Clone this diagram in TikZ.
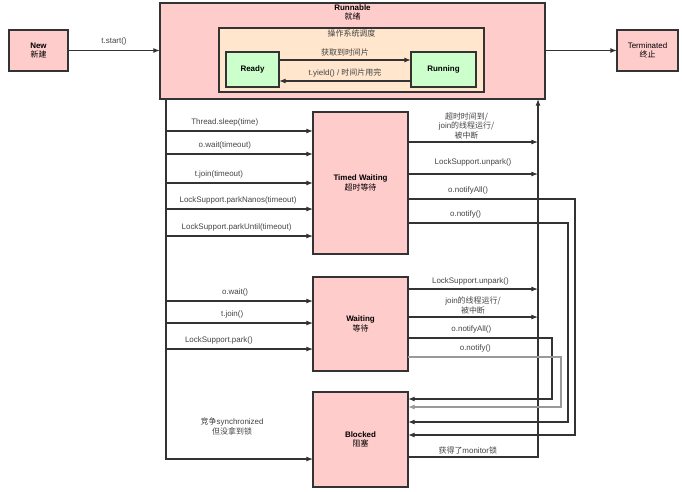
\documentclass[tikz,border=0pt]{standalone}
\usepackage{fontspec}
\setmainfont{Liberation Sans}
\newfontfamily\cjk{Noto Sans CJK SC}
\usepackage{tikz}
\usetikzlibrary{arrows.meta,positioning,calc}
\definecolor{statec}{HTML}{FFCCCC}
\definecolor{readyc}{HTML}{CCFFCC}
\definecolor{schedc}{HTML}{FFE6CC}
\definecolor{linec}{HTML}{333333}
\definecolor{textc}{HTML}{444444}

\begin{document}
\begin{tikzpicture}[x=0.03cm, y=-0.03cm,
  font=\fontsize{6.8}{8.2}\selectfont,
  box/.style={draw=linec, line width=1pt, fill=statec, align=center,
              inner sep=0pt, outer sep=0pt},
  arr/.style={-{Latex[length=2mm,width=1.5mm]}, line width=0.95pt, draw=linec},
  lbl/.style={midway, above=4pt, inner sep=0pt, text=textc, align=center}]
\useasboundingbox (0,0) rectangle (682,491);
% states
\node[box, minimum width=1.77cm, minimum height=1.23cm] (new) at (38.5,50.5)
     {\textbf{New}\\{\cjk 新建}};
\node[box, minimum width=11.55cm, minimum height=2.88cm] (run) at (352.5,51) {};
\node[align=center, inner sep=0pt] (runTitle) at (352.5,12.5) {\textbf{Runnable}\\{\cjk 就绪}};
\node[box, fill=schedc, minimum width=7.95cm, minimum height=1.92cm] (sched) at (351.5,60) {};
\node[inner sep=0pt, text=textc] (schedTitle) at (351.5,33) {\cjk 操作系统调度};
\node[box, fill=readyc, minimum width=1.59cm, minimum height=1.05cm] (ready) at (252.5,69.5)
     {\textbf{Ready}};
\node[box, fill=readyc, minimum width=1.95cm, minimum height=1.05cm] (running) at (443.5,69.5)
     {\textbf{Running}};
\node[box, minimum width=1.83cm, minimum height=1.23cm] (term) at (647.5,50.5)
     {Terminated\\{\cjk 终止}};
\node[box, minimum width=2.85cm, minimum height=4.26cm] (tw) at (360.5,183)
     {\textbf{Timed Waiting}\\{\cjk 超时等待}};
\node[box, minimum width=2.85cm, minimum height=2.82cm] (wt) at (360.5,324)
     {\textbf{Waiting}\\{\cjk 等待}};
\node[box, minimum width=2.85cm, minimum height=2.85cm] (blk) at (360.5,439.5)
     {\textbf{Blocked}\\{\cjk 阻塞}};

\draw[arr] (new) -- node[lbl]{t.start()} (new -| run.west);
\draw[arr] (run.east |- term) -- (term);
\draw[arr] ([yshift=0.285cm]ready.east) -- node[lbl, above=3pt]{\cjk 获取到时间片}
      ([yshift=0.285cm]running.west);
\draw[arr] ([yshift=-0.345cm]running.west) -- node[lbl, above=3pt]{t.yield() / {\cjk 时间片用完}}
      ([yshift=-0.345cm]ready.east);

% left trunk into the waiting states
\coordinate (trunk) at ([xshift=0.18cm]run.south west);
\coordinate (ret) at ([xshift=-0.21cm]run.south east);
\foreach \dy/\p/\txt [count=\i] in {1.56/0.40/Thread.sleep(time), 0.87/0.40/o.wait(timeout),
    0/0.36/t.join(timeout), -0.78/0.49/LockSupport.parkNanos(timeout),
    -1.59/0.48/LockSupport.parkUntil(timeout)}{
  \coordinate (twin\i) at ([yshift=\dy cm]tw.west);
  \draw[arr] (trunk |- twin\i) -- node[lbl, pos=\p]{\txt} (twin\i);
}
\foreach \dy/\p/\txt [count=\i] in {0.69/0.47/o.wait(), 0.03/0.45/t.join(),
    -0.75/0.36/LockSupport.park()}{
  \coordinate (wtin\i) at ([yshift=\dy cm]wt.west);
  \draw[arr] (trunk |- wtin\i) -- node[lbl, pos=\p]{\txt} (wtin\i);
}
\draw[arr] (trunk) |- node[pos=0.725, above=20pt, inner sep=0pt, text=textc, align=center]
      {{\cjk 竞争}synchronized\\{\cjk 但没拿到锁}} ([yshift=-0.585cm]blk.west);

% back to runnable
\coordinate (twout1) at ([yshift=1.23cm]tw.east);
\coordinate (twout2) at ([yshift=0.27cm]tw.east);
\coordinate (wtout1) at ([yshift=1.05cm]wt.east);
\coordinate (wtout2) at ([yshift=0.21cm]wt.east);
\draw[arr] (twout1) -- node[lbl, above=2pt, pos=0.45]{{\cjk 超时时间到/}\\join{\cjk 的线程运行/}\\{\cjk 被中断}}
      (ret |- twout1);
\draw[arr] (twout2) -- node[lbl, above=6pt]{LockSupport.unpark()} (ret |- twout2);
\draw[arr] (wtout1) -- node[lbl, above=3pt, pos=0.48]{LockSupport.unpark()} (ret |- wtout1);
\draw[arr] (wtout2) -- node[lbl, above=2pt]{join{\cjk 的线程运行/}\\{\cjk 被中断}} (ret |- wtout2);
\draw[arr] ([yshift=-0.525cm]blk.east) -| node[pos=0.23, above=2pt, inner sep=0pt, text=textc]
      {{\cjk 获得了}monitor{\cjk 锁}} (ret);

% notify into blocked
\coordinate (blkin1) at ([yshift=1.215cm]blk.east);
\coordinate (blkin2) at ([yshift=0.975cm]blk.east);
\coordinate (blkin3) at ([yshift=0.525cm]blk.east);
\coordinate (blkin4) at ([yshift=0.135cm]blk.east);
\draw[arr] ([yshift=-0.48cm]tw.east) -| node[pos=0.18, above=4pt, inner sep=0pt, text=textc]
      {o.notifyAll()} ([xshift=5.01cm]blkin4) -- (blkin4);
\draw[arr] ([yshift=-1.2cm]tw.east) -| node[pos=0.18, above=4pt, inner sep=0pt, text=textc]
      {o.notify()} ([xshift=4.8cm]blkin3) -- (blkin3);
\draw[arr] ([yshift=-0.42cm]wt.east) -| node[pos=0.22, above=4pt, inner sep=0pt, text=textc]
      {o.notifyAll()} ([xshift=4.32cm]blkin1) -- (blkin1);
\draw[arr, draw=black!40] ([yshift=-0.99cm]wt.east) -| node[pos=0.22, above=4pt, inner sep=0pt, text=textc]
      {o.notify()} ([xshift=4.59cm]blkin2) -- (blkin2);
\end{tikzpicture}
\end{document}
